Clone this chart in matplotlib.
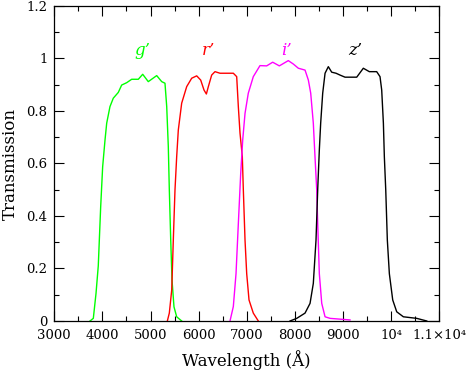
import matplotlib
matplotlib.use("Agg")
import matplotlib.pyplot as plt
from matplotlib.ticker import MultipleLocator, FixedLocator, FixedFormatter

# ---- data ----
g_wave = [3742, 3811, 3867, 3914, 3964, 4005, 4054, 4089, 4157, 4226, 4330, 4400,
          4504, 4608, 4746, 4837, 4953, 5128, 5232, 5300, 5336, 5369, 5390, 5419,
          5446, 5487, 5543, 5647]
g_trans = [0.0, 0.01, 0.105, 0.21, 0.435, 0.587, 0.689, 0.753, 0.816, 0.848, 0.87, 0.898,
           0.907, 0.92, 0.92, 0.939, 0.911, 0.934, 0.911, 0.905, 0.816, 0.664, 0.50, 0.31,
           0.156, 0.054, 0.016, 0.0]

r_wave = [5349, 5390, 5440, 5473, 5508, 5543, 5577, 5647, 5751, 5855, 5959, 6042,
          6111, 6160, 6201, 6270, 6339, 6443, 6582, 6720, 6790, 6824, 6859, 6907,
          6928, 6963, 6998, 7046, 7135, 7239]
r_trans = [0.0, 0.03, 0.118, 0.308, 0.499, 0.625, 0.727, 0.829, 0.892, 0.924, 0.933, 0.917,
           0.879, 0.864, 0.892, 0.936, 0.949, 0.943, 0.943, 0.943, 0.93, 0.816, 0.715, 0.625,
           0.499, 0.308, 0.18, 0.08, 0.03, 0.0]

i_wave = [6651, 6720, 6776, 6824, 6873, 6915, 6963, 7031, 7135, 7274, 7413, 7538,
          7676, 7862, 7967, 8071, 8210, 8279, 8328, 8382, 8417, 8453, 8473, 8507,
          8557, 8626, 8730, 9145]
i_trans = [0.0, 0.055, 0.18, 0.37, 0.56, 0.689, 0.79, 0.867, 0.93, 0.972, 0.971, 0.985,
           0.971, 0.991, 0.978, 0.962, 0.955, 0.917, 0.867, 0.753, 0.625, 0.499, 0.372, 0.18,
           0.067, 0.016, 0.01, 0.004]

z_wave = [7898, 8037, 8210, 8314, 8382, 8438, 8473, 8507, 8535, 8577, 8626, 8694,
          8764, 8854, 8937, 9041, 9284, 9421, 9546, 9699, 9768, 9803, 9838, 9858,
          9887, 9920, 9962, 10032, 10115, 10253, 10531, 10739]
z_trans = [0.0, 0.01, 0.03, 0.067, 0.143, 0.308, 0.499, 0.651, 0.753, 0.867, 0.943, 0.968,
           0.947, 0.943, 0.936, 0.928, 0.928, 0.962, 0.949, 0.949, 0.93, 0.879, 0.753, 0.625,
           0.499, 0.308, 0.18, 0.08, 0.035, 0.016, 0.01, 0.0]

filter_names = ["g’", "r’", "i’", "z’"]
label_x = [4820, 6200, 7820, 9250]
label_y = [1.03, 1.03, 1.03, 1.03]
colors = ["#00ff00", "#ff0000", "#ff00ff", "#000000"]

x_ticks = [3000, 4000, 5000, 6000, 7000, 8000, 9000, 10000, 11000]
x_ticklabels = ["3000", "4000", "5000", "6000", "7000", "8000", "9000", "10⁴", "1.1×10⁴"]

# ---- plot ----
plt.rcParams['font.family'] = ['DejaVu Serif']
fig = plt.figure(figsize=(4.68, 3.71), dpi=100)
ax = fig.add_axes([0.116, 0.1348, 0.8227, 0.8498])

series = [(g_wave, g_trans), (r_wave, r_trans), (i_wave, i_trans), (z_wave, z_trans)]
for (w, t), c in zip(series, colors):
    ax.plot(w, t, color=c, lw=1.0)

for name, lx, ly, c in zip(filter_names, label_x, label_y, colors):
    ax.text(lx, ly, name, color=c, fontsize=12, style='italic',
            ha='center', va='center')

ax.set_xlim(3000, 11000)
ax.set_ylim(0, 1.2)
ax.xaxis.set_major_locator(FixedLocator(x_ticks))
ax.xaxis.set_major_formatter(FixedFormatter(x_ticklabels))
ax.xaxis.set_minor_locator(MultipleLocator(500))
ax.yaxis.set_major_locator(MultipleLocator(0.2))
ax.yaxis.set_minor_locator(MultipleLocator(0.1))
ax.yaxis.set_major_formatter(matplotlib.ticker.FuncFormatter(lambda v, p: f"{v:g}"))
ax.tick_params(which='both', direction='in', top=True, right=True, width=0.8,
               labelsize=9.5)
ax.tick_params(axis='x', which='major', pad=5.5)
ax.tick_params(axis='y', which='major', pad=5)
ax.tick_params(which='major', length=7)
ax.tick_params(which='minor', length=3.8)
for s in ax.spines.values():
    s.set_linewidth(0.9)

ax.set_xlabel("Wavelength (Å)", fontsize=12, labelpad=6)
fig.text(10 / 468, 1 - 164 / 371, "Transmission", fontsize=12, rotation=90,
         ha='center', va='center')

fig.savefig("out.png", dpi=100)
